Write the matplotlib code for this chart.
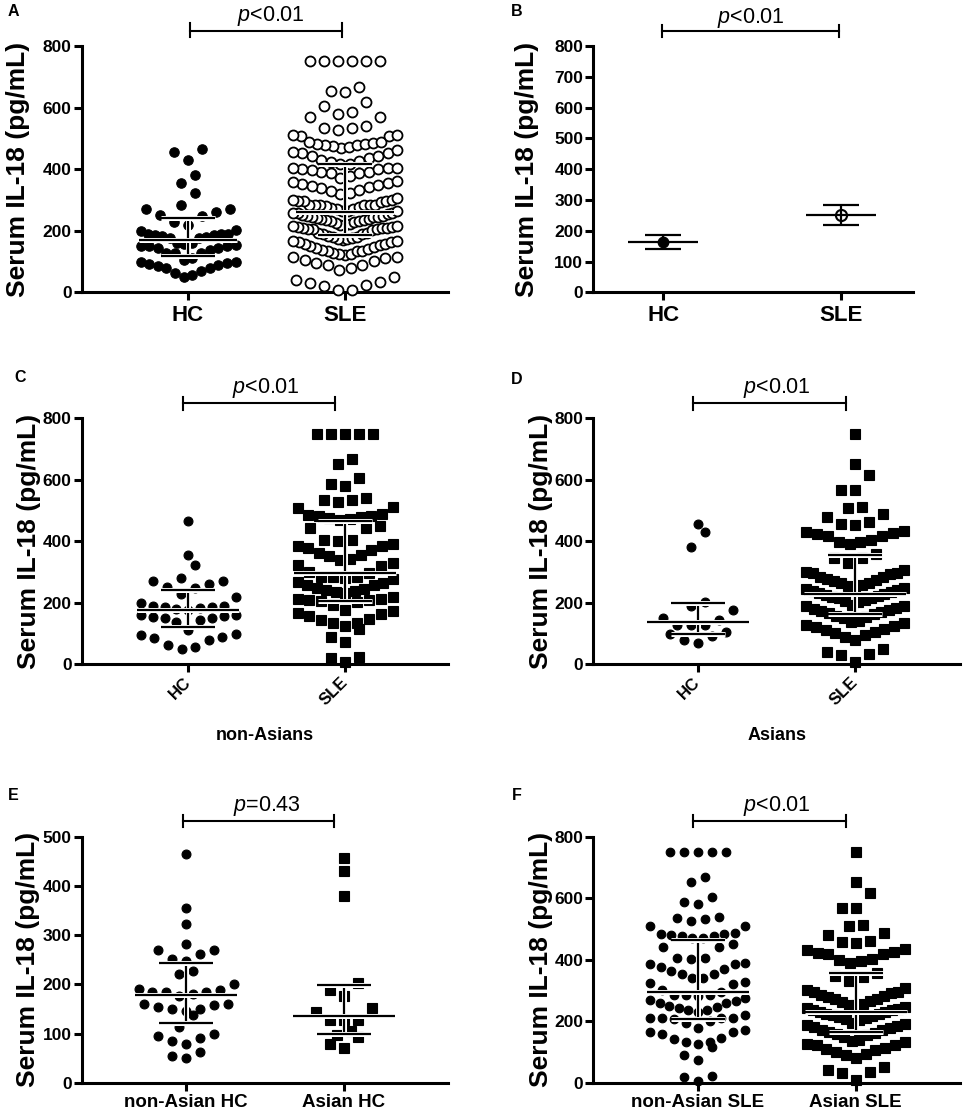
import matplotlib
matplotlib.use('Agg')
import matplotlib.pyplot as plt
from matplotlib.lines import Line2D
import matplotlib.patheffects as pe

plt.rcParams['font.family'] = ['Liberation Sans', 'DejaVu Sans']
plt.rcParams['font.weight'] = 'bold'
plt.rcParams['axes.labelweight'] = 'bold'
plt.rcParams['mathtext.fontset'] = 'custom'
plt.rcParams['mathtext.it'] = 'Liberation Sans:style=italic:weight=normal'
plt.rcParams['mathtext.rm'] = 'Liberation Sans:weight=normal'

W, H = 965, 1114

# ---------------- data (pg/mL) ----------------
nonasian_hc = [465, 355, 322, 282, 270, 270, 262, 252, 247, 228, 220,
               200, 190, 188, 185, 185, 184, 180, 177,
               160, 160, 157, 153, 150, 150, 145, 137,
               113, 100, 95, 90, 85, 78, 63, 55, 50]
asian_hc = [457, 430, 380, 202, 188, 177, 152, 143, 128, 127, 127,
            106, 97, 93, 79, 70]
nonasian_sle = [750, 750, 750, 750, 750, 668, 652, 605, 587, 580,
                540, 535, 533, 527, 510, 508,
                488, 485, 483, 481, 478, 476, 472, 470,
                451, 442, 442, 405, 404, 402, 390, 386,
                386, 377, 371, 362, 355, 352, 342, 340,
                328, 323, 320, 301, 296, 285, 285, 285, 282,
                276, 269, 265, 258, 258, 249, 246, 243, 238, 236, 231,
                220, 212, 212, 209, 209, 206, 201, 193,
                177, 173, 166, 164, 158, 146, 143, 133, 133, 126, 115,
                90, 74, 23, 20, 6]
asian_sle = [750, 653, 617, 568, 568, 512, 509, 488, 479, 462, 457, 453,
             435, 431, 426, 423, 418, 418, 403, 399, 397, 390,
             358, 347, 345, 331,
             307, 301, 296, 296, 293, 285,
             283, 279, 273, 271, 265, 263, 257, 254, 252, 247, 244,
             241, 238, 236, 231, 229, 225, 223, 219, 216, 214, 209, 207, 204,
             193, 190, 188, 183, 181, 178, 173, 171, 166, 163, 157, 154, 149,
             140, 136, 133, 127, 124, 121, 114, 111, 105, 101, 94, 89, 80,
             51, 41, 35, 31, 9]

# median, Q1, Q3
stats_A = {'HC': (170, 118, 242), 'SLE': (262, 185, 418)}
stats_nonasian_hc = (178, 121, 243)
stats_asian_hc = (136, 100, 198)
stats_nonasian_sle = (296, 207, 465)
stats_asian_sle = (230, 165, 357)

# panel B: mean with confidence interval
b_categories = ['HC', 'SLE']
b_mean = [162, 250]
b_low = [140, 218]
b_high = [185, 282]

p_texts = ['$p$<0.01', '$p$<0.01', '$p$<0.01', '$p$<0.01', '$p$=0.43', '$p$<0.01']

# ---------------- layout helpers ----------------
fig = plt.figure(figsize=(W / 100, H / 100), dpi=100)


def make_ax(box, cats_px, ymax):
    l, t, r, b = box
    ax = fig.add_axes([l / W, 1 - b / H, (r - l) / W, (b - t) / H])
    p1, p2 = cats_px
    u = p2 - p1
    ax.set_xlim(1 - (p1 - l) / u, 2 + (r - p2) / u)
    ax.set_ylim(0, ymax)
    for s in ('top', 'right'):
        ax.spines[s].set_visible(False)
    for s in ('left', 'bottom'):
        ax.spines[s].set_linewidth(2.2)
    ax.tick_params(direction='out', length=5.5, width=2.2)
    ax.tick_params(axis='y', labelsize=12.5, pad=1.7)
    ax.set_xticks([1, 2])
    return ax, u, (b - t) / ymax


def swarm(values, center, xs, ys, hpx=15.5, maxsp=14, maxw=95):
    v = sorted(values)
    rows = []
    for val in v:
        if rows and (val - rows[-1][0]) * ys <= hpx:
            rows[-1].append(val)
        else:
            rows.append([val])
    X, Y = [], []
    for r in rows:
        n = len(r)
        sp = maxsp if n == 1 else min(maxsp, maxw / (n - 1))
        pos = [(i - (n - 1) / 2) * sp for i in range(n)]
        order = sorted(range(n), key=lambda i: (abs(pos[i]), pos[i]))
        for val, i in zip(r, order):
            X.append(center + pos[i] / xs)
            Y.append(val)
    return X, Y


halo = [pe.withStroke(linewidth=3.6, foreground='white')]


def summary(ax, x, st, xs, hw_med=51, hw_cap=27):
    med, q1, q3 = st
    kw = dict(color='k', lw=1.6, zorder=6, path_effects=halo,
              solid_capstyle='butt', clip_on=False)
    ax.plot([x, x], [q1, q3], **kw)
    ax.plot([x - hw_cap / xs, x + hw_cap / xs], [q1, q1], **kw)
    ax.plot([x - hw_cap / xs, x + hw_cap / xs], [q3, q3], **kw)
    ax.plot([x - hw_med / xs, x + hw_med / xs], [med, med], **kw)


def points(ax, vals, x, xs, ys, marker, ms, mfc='k', mew=0.8, maxw=95,
           hpx=15.5):
    X, Y = swarm(vals, x, xs, ys, hpx=hpx, maxw=maxw)
    ax.plot(X, Y, ls='none', marker=marker, ms=ms, mfc=mfc, mec='k',
            mew=mew, clip_on=False, zorder=3)


def ylabel(ax, box, off_px):
    ax.set_ylabel('Serum IL-18 (pg/mL)', fontsize=19, fontweight='bold')
    ax.yaxis.set_label_coords(-off_px / (box[2] - box[0]), 0.5)
    ax.yaxis.label.set_va('center')


def bracket(x1, x2, y, yt, yb, text, tx, ty):
    kw = dict(color='k', lw=1.5)
    fig.add_artist(Line2D([x1 / W, x2 / W], [1 - y / H] * 2, **kw))
    for xx in (x1, x2):
        fig.add_artist(Line2D([xx / W] * 2, [1 - yt / H, 1 - yb / H], **kw))
    fig.text(tx / W, 1 - ty / H, text, ha='center', va='baseline',
             fontsize=15.5, fontweight='normal')


def letter(t, x, y):
    fig.text(x / W, 1 - y / H, t, ha='center', va='center', fontsize=11.5,
             fontweight='bold')


# ---------------- panel A ----------------
boxA = (81.7, 46, 448, 292.3)
axA, xs, ys = make_ax(boxA, (188, 345), 800)
axA.set_yticks([0, 200, 400, 600, 800])
axA.set_xticklabels(['HC', 'SLE'], fontsize=16)
axA.tick_params(axis='x', pad=4)
points(axA, nonasian_hc + asian_hc, 1, xs, ys, 'o', 6.8)
points(axA, nonasian_sle + asian_sle, 2, xs, ys, 'o', 7.2, mfc='white',
       mew=1.3, maxw=104, hpx=14)
summary(axA, 1, stats_A['HC'], xs, 49, 27)
summary(axA, 2, stats_A['SLE'], xs, 49, 27)
ylabel(axA, boxA, 63.7)

# ---------------- panel B ----------------
boxB = (593.3, 46, 913, 292.3)
axB, xs, ys = make_ax(boxB, (663.3, 840.7), 800)
axB.set_yticks(range(0, 801, 100))
axB.set_xticklabels(b_categories, fontsize=16)
axB.tick_params(axis='x', pad=4)
kw = dict(color='k', lw=1.6, solid_capstyle='butt', zorder=4)
for i, (m, lo, hi) in enumerate(zip(b_mean, b_low, b_high)):
    x = i + 1
    axB.plot([x, x], [lo, hi], **kw)
    axB.plot([x - 18 / xs, x + 18 / xs], [lo, lo], **kw)
    axB.plot([x - 18 / xs, x + 18 / xs], [hi, hi], **kw)
    axB.plot([x - 35 / xs, x + 35 / xs], [m, m], **kw)
axB.plot([1], [b_mean[0]], ls='none', marker='o', ms=7.5, mfc='k', mec='k',
         zorder=5)
axB.plot([2], [b_mean[1]], ls='none', marker='o', ms=8, mfc='none', mec='k',
         mew=1.5, zorder=5)
ylabel(axB, boxB, 66.3)

# ---------------- panel C ----------------
boxC = (81.7, 418.3, 448, 664.3)
axC, xs, ys = make_ax(boxC, (188.3, 345), 800)
axC.set_yticks([0, 200, 400, 600, 800])
axC.set_xticklabels(['HC', 'SLE'], fontsize=12, rotation=45, ha='right',
                    va='center', rotation_mode='anchor')
axC.tick_params(axis='x', pad=6)
points(axC, nonasian_hc, 1, xs, ys, 'o', 6.4)
points(axC, nonasian_sle, 2, xs, ys, 's', 6.5)
summary(axC, 1, stats_nonasian_hc, xs)
summary(axC, 2, stats_nonasian_sle, xs)
ylabel(axC, boxC, 52.7)
axC.set_xlabel('non-Asians', fontsize=13, fontweight='bold')
axC.xaxis.set_label_coords(0.5, -(735 - 664.3) / 246)
axC.xaxis.label.set_va('center')

# ---------------- panel D ----------------
boxD = (593.3, 418.3, 960, 664.3)
axD, xs, ys = make_ax(boxD, (697.7, 855), 800)
axD.set_yticks([0, 200, 400, 600, 800])
axD.set_xticklabels(['HC', 'SLE'], fontsize=12, rotation=45, ha='right',
                    va='center', rotation_mode='anchor')
axD.tick_params(axis='x', pad=6)
points(axD, asian_hc, 1, xs, ys, 'o', 6.4)
points(axD, asian_sle, 2, xs, ys, 's', 6.6, maxw=98, hpx=17)
summary(axD, 1, stats_asian_hc, xs)
summary(axD, 2, stats_asian_sle, xs)
ylabel(axD, boxD, 52.3)
axD.set_xlabel('Asians', fontsize=13, fontweight='bold')
axD.xaxis.set_label_coords(0.5, -(735 - 664.3) / 246)
axD.xaxis.label.set_va('center')

# ---------------- panel E ----------------
boxE = (81.7, 836.7, 448, 1082.7)
axE, xs, ys = make_ax(boxE, (186, 344), 500)
axE.set_yticks(range(0, 501, 100))
axE.set_xticklabels(['non-Asian HC', 'Asian HC'], fontsize=13.5)
axE.tick_params(axis='x', pad=2.5)
points(axE, nonasian_hc, 1, xs, ys, 'o', 6.4, hpx=13)
points(axE, asian_hc, 2, xs, ys, 's', 6.5, hpx=13)
summary(axE, 1, stats_nonasian_hc, xs)
summary(axE, 2, stats_asian_hc, xs)
ylabel(axE, boxE, 53.7)

# ---------------- panel F ----------------
boxF = (593.3, 836.7, 960, 1082.7)
axF, xs, ys = make_ax(boxF, (697.7, 855.7), 800)
axF.set_yticks([0, 200, 400, 600, 800])
axF.set_xticklabels(['non-Asian SLE', 'Asian SLE'], fontsize=13.5)
axF.tick_params(axis='x', pad=2.5)
points(axF, nonasian_sle, 1, xs, ys, 'o', 6.2)
points(axF, asian_sle, 2, xs, ys, 's', 6.6, maxw=98, hpx=17)
summary(axF, 1, stats_nonasian_sle, xs)
summary(axF, 2, stats_asian_sle, xs)
ylabel(axF, boxF, 52.3)

# ---------------- brackets, letters ----------------
bracket(190, 341.7, 31, 22.7, 36.7, p_texts[0], 271, 20.7)
bracket(661.7, 839, 31, 25, 37, p_texts[1], 750.8, 23.3)
bracket(183.3, 335, 403.3, 396.7, 410, p_texts[2], 265.8, 393.3)
bracket(693.3, 845.7, 403.3, 396.7, 410, p_texts[3], 776.7, 393.3)
bracket(182.7, 334, 821, 815, 827, p_texts[4], 266.7, 810.7)
bracket(693.3, 845.7, 821, 815, 827, p_texts[5], 776.7, 810.7)

for t, x, y in [('A', 13, 12), ('B', 517, 11), ('C', 20, 377),
                ('D', 517, 379), ('E', 13, 796), ('F', 517, 796)]:
    letter(t, x, y)

fig.savefig('out.png', dpi=100)
